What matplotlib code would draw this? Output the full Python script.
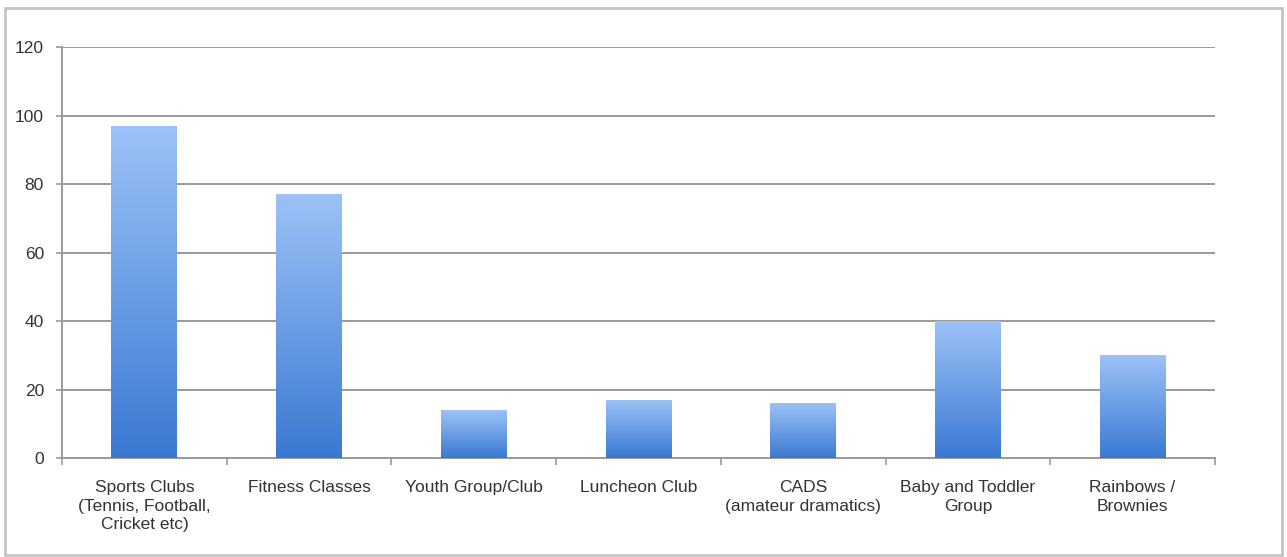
import matplotlib
matplotlib.use("Agg")
import matplotlib.pyplot as plt
import numpy as np
from matplotlib.colors import LinearSegmentedColormap
from matplotlib.patches import Rectangle

categories = [
    "Sports Clubs\n(Tennis, Football,\nCricket etc)",
    "Fitness Classes",
    "Youth Group/Club",
    "Luncheon Club",
    "CADS\n(amateur dramatics)",
    "Baby and Toddler\nGroup",
    "Rainbows /\nBrownies",
]
values = [97, 77, 14, 17, 16, 40, 30]
y_ticks = [0, 20, 40, 60, 80, 100, 120]

plt.rcParams["font.family"] = ["Liberation Sans", "DejaVu Sans"]

fig = plt.figure(figsize=(12.87, 5.57), dpi=100)
ax = fig.add_axes([0.0482, 0.1777, 0.8958, 0.7379])

# outer frame round the whole picture
fig.patches.append(Rectangle((5 / 1287, 2 / 557), 1277 / 1287, 547 / 557,
                             transform=fig.transFigure, fill=False,
                             edgecolor="#c4c4c4", linewidth=2))

x = np.arange(len(categories))
bars = ax.bar(x, values, width=0.4, color="none", zorder=3)

cmap = LinearSegmentedColormap.from_list("bluegrad", ["#3a79d2", "#9cc2f7"])
grad = np.linspace(0, 1, 256).reshape(-1, 1)
for bar in bars:
    bx, by = bar.get_x(), bar.get_y()
    w, h = bar.get_width(), bar.get_height()
    im = ax.imshow(grad, cmap=cmap, origin="lower", aspect="auto",
                   extent=[bx, bx + w, by, by + h], zorder=3)
    im.set_clip_path(bar)

ax.set_xlim(-0.5, len(categories) - 0.5)
ax.set_ylim(0, 120)
ax.set_yticks(y_ticks)
ax.set_yticklabels([str(t) for t in y_ticks])
ax.set_xticks(x)
ax.set_xticklabels(categories, linespacing=1.28)
ax.set_xticks(np.arange(-0.5, len(categories)), minor=True)

ax.yaxis.grid(True, color="#9a9a9a", linewidth=1.4, zorder=1)
ax.set_axisbelow(True)

for side in ["top", "right"]:
    ax.spines[side].set_visible(False)
for side in ["left", "bottom"]:
    ax.spines[side].set_color("#9a9a9a")
    ax.spines[side].set_linewidth(1.4)

ax.tick_params(axis="y", length=4, width=1.2, color="#9a9a9a", pad=9,
               labelsize=12.5, labelcolor="#333333")
ax.tick_params(axis="x", which="major", length=0, pad=16,
               labelsize=12.5, labelcolor="#333333")
ax.tick_params(axis="x", which="minor", length=5, width=1.2, color="#9a9a9a")
for lbl in ax.get_xticklabels():
    lbl.set_verticalalignment("top")

fig.savefig("out.png", dpi=100)
